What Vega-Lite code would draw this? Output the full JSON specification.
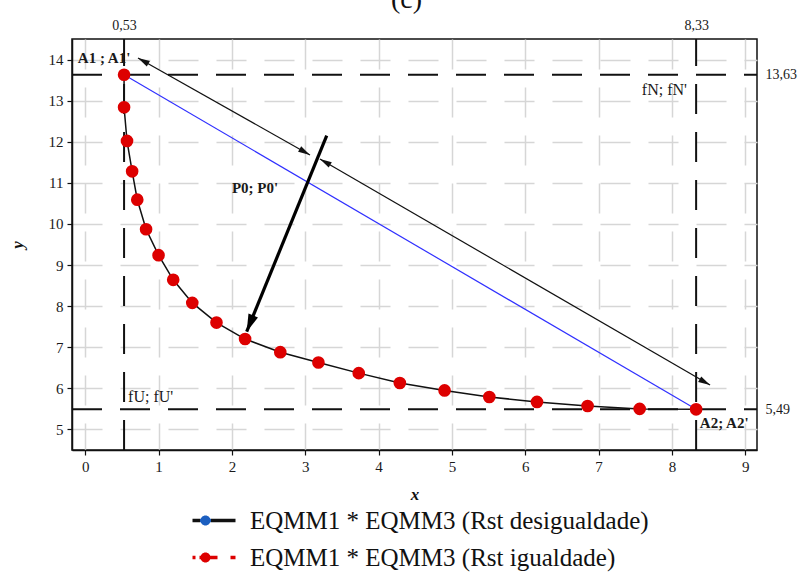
{
  "$schema": "https://vega.github.io/schema/vega-lite/v6.json",
  "width": 685,
  "height": 411,
  "autosize": {"type": "none"},
  "padding": {"left": 72, "top": 39, "right": 46, "bottom": 127},
  "title": {"text": "(c)", "fontSize": 28, "font": "Liberation Serif, Times New Roman, serif", "fontWeight": "normal", "color": "#111", "anchor": "middle", "offset": 4, "dx": -8},
  "config": {
    "font": "Liberation Serif, Times New Roman, serif",
    "view": {"stroke": "#111", "strokeWidth": 1.5},
    "axis": {
      "labelFont": "Liberation Serif, Times New Roman, serif", "labelFontSize": 15, "labelColor": "#1a1a1a",
      "domainColor": "#111", "domainWidth": 1.5, "tickColor": "#111", "tickWidth": 1.2, "tickSize": 5,
      "labelPadding": 4, "titleFont": "Liberation Serif, Times New Roman, serif", "titleFontSize": 17, "titleFontStyle": "italic",
      "titleFontWeight": "bold", "titleColor": "#111", "gridColor": "#d6d6d6", "gridWidth": 1.5,
      "gridDash": [30, 18], "labelFlush": false, "labelOverlap": false
    },
    "legend": {
      "labelFont": "Liberation Serif, Times New Roman, serif", "labelFontSize": 25, "labelColor": "#111", "symbolSize": 400,
      "labelOffset": 32, "labelLimit": 600
    }
  },
  "datasets": {
    "desig": [{"x": 0.53, "y": 13.63}, {"x": 8.33, "y": 5.49}],
    "curve": [
      {"k": 1, "x": 0.53, "y": 13.63}, {"k": 2, "x": 0.53, "y": 12.84}, {"k": 3, "x": 0.57, "y": 12.02},
      {"k": 4, "x": 0.64, "y": 11.28}, {"k": 5, "x": 0.71, "y": 10.59}, {"k": 6, "x": 0.83, "y": 9.87},
      {"k": 7, "x": 1.0, "y": 9.24}, {"k": 8, "x": 1.2, "y": 8.64}, {"k": 9, "x": 1.46, "y": 8.08},
      {"k": 10, "x": 1.79, "y": 7.6}, {"k": 11, "x": 2.18, "y": 7.2}, {"k": 12, "x": 2.66, "y": 6.88},
      {"k": 13, "x": 3.18, "y": 6.63}, {"k": 14, "x": 3.73, "y": 6.37}, {"k": 15, "x": 4.29, "y": 6.13},
      {"k": 16, "x": 4.9, "y": 5.95}, {"k": 17, "x": 5.51, "y": 5.79}, {"k": 18, "x": 6.16, "y": 5.67},
      {"k": 19, "x": 6.85, "y": 5.57}, {"k": 20, "x": 7.56, "y": 5.5}, {"k": 21, "x": 8.33, "y": 5.49}
    ],
    "vlines": [{"x": 0.53}, {"x": 8.33}],
    "hlines": [{"y": 13.63}, {"y": 5.49}],
    "thin": [{"x": 0.72, "y": 14.04, "x2": 3.065, "y2": 11.68}, {"x": 3.2, "y": 11.58, "x2": 8.52, "y2": 6.08}],
    "thick": [{"x": 3.293, "y": 12.15, "x2": 2.202, "y2": 7.38}],
    "headsDR": [{"x": 3.065, "y": 11.68}, {"x": 8.52, "y": 6.08}],
    "headsUL": [{"x": 0.72, "y": 14.04}, {"x": 3.2, "y": 11.58}],
    "headThick": [{"x": 2.202, "y": 7.38}],
    "boldLabels": [
      {"x": -0.1, "y": 14.04, "t": "A1 ; A1'"},
      {"x": 2.0, "y": 10.87, "t": "P0; P0'"},
      {"x": 8.38, "y": 5.157, "t": "A2; A2'"}
    ],
    "normLabels": [
      {"x": 7.59, "y": 13.26, "t": "fN; fN'"},
      {"x": 0.585, "y": 5.79, "t": "fU; fU'"}
    ]
  },
  "resolve": {"axis": {"x": "independent", "y": "independent"}, "scale": {"color": "independent"}, "legend": {"color": "independent"}},
  "layer": [
    {
      "data": {"name": "desig"},
      "mark": {"type": "line", "strokeWidth": 1.2},
      "encoding": {
        "x": {"field": "x", "type": "quantitative", "scale": {"domain": [-0.18, 9.16], "nice": false, "zero": false},
              "axis": {"orient": "bottom", "values": [0, 1, 2, 3, 4, 5, 6, 7, 8, 9], "format": "d", "title": "x", "grid": true, "titlePadding": 12,
                       "labelFont": "Liberation Serif, Times New Roman, serif", "labelFontSize": 15, "titleFont": "Liberation Serif, Times New Roman, serif"}},
        "y": {"field": "y", "type": "quantitative", "scale": {"domain": [4.5, 14.5], "nice": false, "zero": false},
              "axis": {"orient": "left", "values": [5, 6, 7, 8, 9, 10, 11, 12, 13, 14], "format": "d", "title": "y", "grid": true, "titlePadding": 22,
                       "labelFont": "Liberation Serif, Times New Roman, serif", "labelFontSize": 15, "titleFont": "Liberation Serif, Times New Roman, serif"}},
        "color": {
          "datum": "EQMM1 * EQMM3 (Rst desigualdade)", "type": "nominal",
          "scale": {"range": ["#3030ff"]},
          "legend": {
            "title": null, "orient": "none", "legendX": 121, "legendY": 469,
            "labelFont": "Liberation Serif, Times New Roman, serif", "labelFontSize": 25, "labelColor": "#111", "labelOffset": 32, "labelLimit": 600,
            "symbolSize": 400,
            "symbolType": "M-1.3,-0.18H3V0.18H-1.3ZM-0.5,0A0.5,0.5 0 1,1 0.5,0A0.5,0.5 0 1,1 -0.5,0Z",
            "encode": {
              "labels": {"update": {"font": {"value": "Liberation Serif, Times New Roman, serif"}, "fontSize": {"value": 25}}},
              "symbols": {
                "update": {
                  "shape": {"value": "M-1.3,-0.18H3V0.18H-1.3ZM-0.5,0A0.5,0.5 0 1,1 0.5,0A0.5,0.5 0 1,1 -0.5,0Z"},
                  "fill": {"value": {"gradient": "linear", "x1": 0, "y1": 0, "x2": 1, "y2": 0, "stops": [{"offset": 0, "color": "#111"}, {"offset": 0.186, "color": "#111"}, {"offset": 0.186, "color": "#1c5fc0"}, {"offset": 0.419, "color": "#1c5fc0"}, {"offset": 0.419, "color": "#111"}, {"offset": 1, "color": "#111"}]}},
                  "strokeWidth": {"value": 0},
                  "opacity": {"value": 1},
                  "fillOpacity": {"value": 1}
                }
              }
            }
          }
        }
      }
    },
    {
      "data": {"name": "vlines"},
      "mark": {"type": "rule", "strokeDash": [30, 18], "strokeWidth": 2, "color": "#111"},
      "encoding": {
        "x": {"field": "x", "type": "quantitative",
              "axis": {"orient": "top", "values": [0.53, 8.33], "labelExpr": "replace(format(datum.value, '.2f'), '.', ',')", "ticks": false, "domain": false, "grid": false, "labelPadding": 7, "title": null,
                       "labelFont": "Liberation Serif, Times New Roman, serif", "labelFontSize": 14}},
        "y": {"datum": 4.5, "type": "quantitative", "axis": null},
        "y2": {"datum": 14.5}
      }
    },
    {
      "data": {"name": "hlines"},
      "mark": {"type": "rule", "strokeDash": [30, 18], "strokeWidth": 2, "color": "#111"},
      "encoding": {
        "y": {"field": "y", "type": "quantitative",
              "axis": {"orient": "right", "values": [13.63, 5.49], "labelExpr": "replace(format(datum.value, '.2f'), '.', ',')", "ticks": false, "domain": false, "grid": false, "labelPadding": 8, "title": null,
                       "labelFont": "Liberation Serif, Times New Roman, serif", "labelFontSize": 14}},
        "x": {"datum": -0.18, "type": "quantitative", "axis": null},
        "x2": {"datum": 9.16}
      }
    },
    {
      "data": {"name": "curve"},
      "mark": {"type": "line", "color": "#111", "strokeWidth": 1.5},
      "encoding": {
        "x": {"field": "x", "type": "quantitative", "axis": null},
        "y": {"field": "y", "type": "quantitative", "axis": null},
        "order": {"field": "k", "type": "quantitative"}
      }
    },
    {
      "data": {"name": "curve"},
      "mark": {"type": "point", "shape": "circle", "filled": true, "size": 160, "opacity": 1},
      "encoding": {
        "x": {"field": "x", "type": "quantitative", "axis": null},
        "y": {"field": "y", "type": "quantitative", "axis": null},
        "color": {
          "datum": "EQMM1 * EQMM3 (Rst igualdade)", "type": "nominal",
          "scale": {"range": ["#dd0000"]},
          "legend": {
            "title": null, "orient": "none", "legendX": 121, "legendY": 506,
            "labelFont": "Liberation Serif, Times New Roman, serif", "labelFontSize": 25, "labelColor": "#111", "labelOffset": 32, "labelLimit": 600,
            "symbolSize": 400,
            "symbolType": "M-1.3,-0.18H-1V0.18H-1.3ZM-0.6,-0.18H1.2V0.18H-0.6ZM2.5,-0.18H3V0.18H2.5ZM-0.5,0A0.5,0.5 0 1,1 0.5,0A0.5,0.5 0 1,1 -0.5,0Z",
            "encode": {
              "labels": {"update": {"font": {"value": "Liberation Serif, Times New Roman, serif"}, "fontSize": {"value": 25}}},
              "symbols": {
                "update": {
                  "shape": {"value": "M-1.3,-0.18H-1V0.18H-1.3ZM-0.6,-0.18H1.2V0.18H-0.6ZM2.5,-0.18H3V0.18H2.5ZM-0.5,0A0.5,0.5 0 1,1 0.5,0A0.5,0.5 0 1,1 -0.5,0Z"},
                  "fill": {"value": {"gradient": "linear", "x1": 0, "y1": 0, "x2": 1, "y2": 0, "stops": [{"offset": 0, "color": "#111"}, {"offset": 0.186, "color": "#111"}, {"offset": 0.186, "color": "#a31515"}, {"offset": 0.419, "color": "#a31515"}, {"offset": 0.419, "color": "#111"}, {"offset": 1, "color": "#111"}]}},
                  "strokeWidth": {"value": 0},
                  "opacity": {"value": 1},
                  "fillOpacity": {"value": 1}
                }
              }
            }
          }
        }
      }
    },
    {
      "data": {"name": "thin"},
      "mark": {"type": "rule", "strokeWidth": 1.2, "color": "#111"},
      "encoding": {
        "x": {"field": "x", "type": "quantitative", "axis": null},
        "y": {"field": "y", "type": "quantitative", "axis": null},
        "x2": {"field": "x2"},
        "y2": {"field": "y2"}
      }
    },
    {
      "data": {"name": "thick"},
      "mark": {"type": "rule", "strokeWidth": 3.2, "color": "#000"},
      "encoding": {
        "x": {"field": "x", "type": "quantitative", "axis": null},
        "y": {"field": "y", "type": "quantitative", "axis": null},
        "x2": {"field": "x2"},
        "y2": {"field": "y2"}
      }
    },
    {
      "data": {"name": "headsDR"},
      "mark": {"type": "point", "shape": "M0,0L0.45,1.7L-0.45,1.7Z", "filled": true, "size": 196, "angle": 119.5, "color": "#111", "opacity": 1},
      "encoding": {
        "x": {"field": "x", "type": "quantitative", "axis": null},
        "y": {"field": "y", "type": "quantitative", "axis": null}
      }
    },
    {
      "data": {"name": "headsUL"},
      "mark": {"type": "point", "shape": "M0,0L0.45,1.7L-0.45,1.7Z", "filled": true, "size": 196, "angle": 299.5, "color": "#111", "opacity": 1},
      "encoding": {
        "x": {"field": "x", "type": "quantitative", "axis": null},
        "y": {"field": "y", "type": "quantitative", "axis": null}
      }
    },
    {
      "data": {"name": "headThick"},
      "mark": {"type": "point", "shape": "M0,0L0.5,1.7L-0.5,1.7Z", "filled": true, "size": 420, "angle": 202, "color": "#000", "opacity": 1},
      "encoding": {
        "x": {"field": "x", "type": "quantitative", "axis": null},
        "y": {"field": "y", "type": "quantitative", "axis": null}
      }
    },
    {
      "data": {"name": "boldLabels"},
      "mark": {"type": "text", "align": "left", "baseline": "middle", "font": "Liberation Serif, Times New Roman, serif", "fontSize": 15, "fontWeight": "bold", "color": "#1a1a1a"},
      "encoding": {
        "x": {"field": "x", "type": "quantitative", "axis": null},
        "y": {"field": "y", "type": "quantitative", "axis": null},
        "text": {"field": "t"}
      }
    },
    {
      "data": {"name": "normLabels"},
      "mark": {"type": "text", "align": "left", "baseline": "middle", "font": "Liberation Serif, Times New Roman, serif", "fontSize": 16, "color": "#1a1a1a"},
      "encoding": {
        "x": {"field": "x", "type": "quantitative", "axis": null},
        "y": {"field": "y", "type": "quantitative", "axis": null},
        "text": {"field": "t"}
      }
    }
  ]
}
